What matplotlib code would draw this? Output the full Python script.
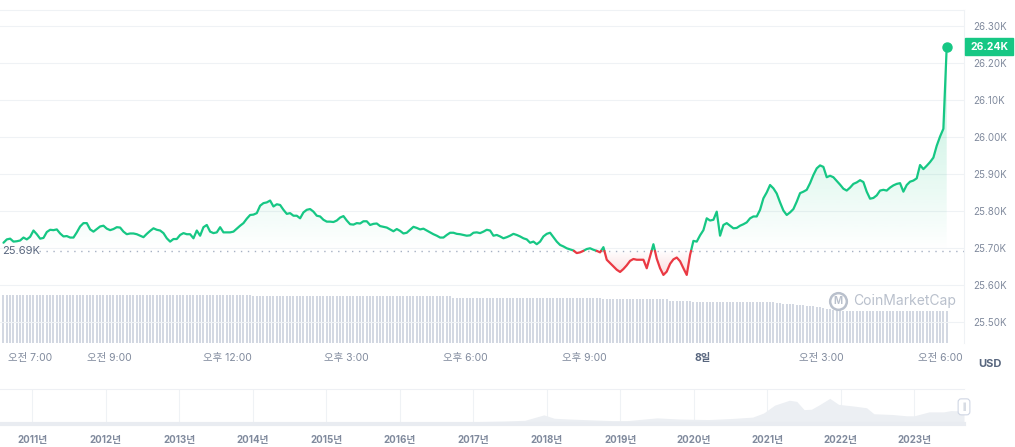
import numpy as np
import matplotlib
matplotlib.use("Agg")
import matplotlib.pyplot as plt
import matplotlib.transforms as mtransforms
from matplotlib.colors import to_rgb
from matplotlib.patches import Polygon, Rectangle

plt.rcParams["font.family"] = ["Inter", "Noto Sans CJK KR", "DejaVu Sans"]

GREEN = "#16c784"
RED = "#ea3943"
GRID = "#eff2f5"
TICK = "#808a9d"
DARK = "#58667e"

# BTC price (USD), ~5 min steps, 7일 06:20 -> 8일 06:10 (hours from 7일 00:00)
t_start, t_end = 6.33, 30.17
price = [
    25714, 25723, 25725, 25717, 25718, 25720, 25728, 25723, 25730, 25747, 25737, 25725,
    25727, 25743, 25749, 25748, 25750, 25739, 25731, 25732, 25728, 25728, 25742, 25758,
    25767, 25767, 25750, 25744, 25751, 25758, 25760, 25752, 25748, 25751, 25756, 25755,
    25744, 25737, 25739, 25739, 25737, 25733, 25729, 25738, 25746, 25753, 25749,
    25747, 25740, 25726, 25717, 25724, 25724, 25735, 25740, 25737, 25737, 25726, 25747,
    25733, 25756, 25762, 25744, 25740, 25742, 25756, 25742, 25742, 25742, 25744, 25752,
    25760, 25767, 25779, 25789, 25790, 25794, 25814, 25821, 25823, 25828, 25812, 25818,
    25816, 25803, 25792, 25794, 25787, 25787, 25780, 25796, 25803, 25805, 25798, 25787,
    25785, 25776, 25771, 25771, 25770, 25774, 25782, 25786, 25774, 25764, 25763, 25767,
    25766, 25772, 25772, 25762, 25765, 25766, 25759, 25757, 25755, 25750, 25745, 25751,
    25746, 25739, 25741, 25749, 25757, 25754, 25750, 25752, 25747, 25742, 25737, 25733,
    25728, 25728, 25735, 25741, 25741, 25738, 25737, 25735, 25733, 25734, 25741, 25742,
    25740, 25744, 25749, 25747, 25733, 25735, 25731, 25726, 25729, 25733, 25738, 25735,
    25731, 25726, 25723, 25714, 25717, 25710, 25717, 25731, 25738, 25741, 25729, 25717,
    25708, 25704, 25699, 25696, 25693, 25686, 25688, 25692, 25697, 25699, 25695, 25692,
    25688, 25702, 25668, 25659, 25650, 25641, 25635, 25643, 25653, 25665, 25670, 25668,
    25668, 25668, 25645, 25677, 25710, 25671, 25645, 25627, 25636, 25657, 25669, 25674,
    25664, 25645, 25627, 25681, 25719, 25717, 25734, 25748, 25780, 25774, 25776, 25798,
    25733, 25762, 25767, 25760, 25753, 25754, 25760, 25764, 25769, 25780, 25785, 25785,
    25803, 25834, 25850, 25870, 25861, 25847, 25823, 25801, 25789, 25796, 25805, 25825,
    25848, 25852, 25857, 25875, 25897, 25915, 25923, 25919, 25891, 25895, 25891, 25881,
    25871, 25860, 25855, 25863, 25873, 25877, 25883, 25878, 25852, 25833, 25835, 25842,
    25855, 25857, 25855, 25863, 25869, 25873, 25875, 25852, 25870, 25879, 25882, 25888,
    25924, 25913, 25922, 25932, 25944, 25976, 26001, 26022, 26244,
]
# 24h volume (B USD), one bar per price point
volume = [
    15.0, 15.0, 15.0, 15.0, 15.0, 15.0, 15.0, 15.0, 15.0, 15.0, 15.0, 15.0, 15.0, 15.0, 15.0,
    15.0, 15.0, 15.0, 15.0, 15.0, 15.0, 15.0, 15.0, 15.0, 15.0, 15.0, 15.0, 15.0, 15.0, 15.0,
    15.0, 15.0, 15.0, 15.0, 15.0, 15.0, 15.0, 15.0, 15.0, 15.0, 15.0, 15.0, 15.0, 15.0, 15.0,
    15.0, 15.0, 15.0, 15.0, 15.0, 15.0, 15.0, 15.0, 15.0, 15.0, 15.0, 15.0, 15.0, 15.0, 15.0,
    15.0, 15.0, 15.0, 15.0, 15.0, 15.0, 15.0, 15.0, 15.0, 15.0, 15.0, 15.0, 15.0, 15.0, 15.0,
    14.7, 14.7, 14.7, 14.7, 14.7, 14.7, 14.7, 14.7, 14.7, 14.7, 14.7, 14.7, 14.7, 14.7, 14.7,
    14.7, 14.7, 14.7, 14.7, 14.7, 14.7, 14.7, 14.7, 14.7, 14.7, 14.7, 14.7, 14.7, 14.7, 14.7,
    14.7, 14.7, 14.7, 14.7, 14.7, 14.7, 14.7, 14.7, 14.7, 14.7, 14.7, 14.7, 14.7, 14.7, 14.7,
    14.7, 14.7, 14.7, 14.7, 14.7, 14.7, 14.7, 14.7, 14.7, 14.7, 14.7, 14.7, 14.7, 14.7, 14.7,
    14.2, 14.2, 14.2, 14.2, 14.2, 14.2, 14.2, 14.2, 14.2, 14.2, 14.2, 14.2, 14.2, 14.2, 14.2,
    14.2, 14.2, 14.2, 14.2, 14.2, 14.2, 14.2, 14.2, 14.2, 14.2, 14.2, 14.2, 14.2, 14.2, 14.2,
    14.2, 14.2, 14.2, 14.2, 14.2, 14.2, 14.2, 14.2, 14.2, 14.2, 14.2, 14.2, 14.2, 14.2, 14.2,
    13.7, 13.7, 13.7, 13.7, 13.7, 13.7, 13.7, 13.7, 13.7, 13.7, 13.7, 13.7, 13.7, 13.7,
    13.8, 13.8, 13.8, 13.7, 13.7, 13.7, 13.2, 13.2, 13.2, 13.2, 13.2, 13.2, 13.2,
    12.8, 12.8, 12.8, 12.8, 12.8, 12.8, 12.8, 12.8, 12.8, 12.8, 12.8, 12.8, 12.8,
    12.8, 12.8, 12.8, 12.8, 12.8, 12.8, 12.8, 12.8, 12.8, 12.8, 12.8, 12.8,
    12.5, 12.4, 12.3, 12.3, 12.2, 12.1, 12.0, 11.9, 11.8, 11.7, 11.5, 11.4, 11.3, 11.1,
    10.9, 10.7, 10.5, 10.3, 10.2, 10.1,
    10.0, 10.0, 10.0, 10.0, 10.0, 10.0, 10.0, 10.0, 10.0, 10.0, 10.0, 10.0, 10.0, 10.0, 10.0, 10.0,
    10.0, 10.0, 10.0, 10.0, 10.0, 10.0, 10.0, 10.0, 10.0, 10.0, 10.0, 10.0, 10.0, 10.0, 10.0, 10.0,
]
assert len(volume) == len(price), (len(volume), len(price))
base_price = 25692  # open price -> dotted line

price_ticks = [25500, 25600, 25700, 25800, 25900, 26000, 26100, 26200, 26300]
time_ticks = [7, 9, 12, 15, 18, 21, 24, 27, 30]
time_labels = ["오전 7:00", "오전 9:00", "오후 12:00", "오후 3:00", "오후 6:00",
               "오후 9:00", "8일", "오전 3:00", "오전 6:00"]

# all-time history for the navigator (year, price in K USD)
nav_year = [2010.56, 2012.0, 2013.9, 2014.5, 2015.0, 2016.0, 2017.0, 2017.4, 2017.7,
            2017.96, 2018.1, 2018.3, 2018.5, 2018.9, 2019.1, 2019.5, 2019.8, 2020.0,
            2020.2, 2020.5, 2020.8, 2020.95, 2021.1, 2021.3, 2021.4, 2021.5, 2021.6,
            2021.7, 2021.85, 2021.97, 2022.2, 2022.35, 2022.45, 2022.7, 2022.9, 2023.0,
            2023.2, 2023.4, 2023.5, 2023.676]
nav_price = [0.0, 0.0, 1.0, 0.6, 0.3, 0.4, 1.0, 2.5, 4.5,
             19.0, 10.0, 8.0, 6.5, 3.7, 3.8, 11.0, 8.0, 7.2,
             6.5, 9.2, 13.0, 24.0, 45.0, 58.0, 55.0, 33.0, 34.0,
             45.0, 63.0, 47.0, 42.0, 38.0, 22.0, 20.0, 16.5, 16.6,
             27.0, 27.0, 30.5, 29.2]
year_ticks = list(range(2011, 2024))


def split_at_base(t, p, base):
    tt, pp = [t[0]], [p[0]]
    for i in range(1, len(t)):
        a, b = p[i - 1] - base, p[i] - base
        if a * b < 0:
            f = a / (a - b)
            tt.append(t[i - 1] + f * (t[i] - t[i - 1]))
            pp.append(base)
        tt.append(t[i])
        pp.append(p[i])
    return np.array(tt), np.array(pp)


def gradient_fill(ax, tt, pp, base, color, alpha_max, above=True):
    if above:
        edge = np.maximum(pp, base)
        lo, hi = base, edge.max()
        alphas = np.linspace(alpha_max, 0, 256)
    else:
        edge = np.minimum(pp, base)
        lo, hi = edge.min(), base
        alphas = np.linspace(0, alpha_max, 256)
    rgba = np.zeros((256, 1, 4))
    rgba[..., :3] = to_rgb(color)
    rgba[:, 0, 3] = alphas
    im = ax.imshow(rgba, extent=[tt[0], tt[-1], lo, hi], aspect="auto",
                   origin="upper", zorder=1, interpolation="bilinear")
    verts = np.column_stack([np.r_[tt[0], tt, tt[-1]], np.r_[base, edge, base]])
    poly = Polygon(verts, closed=True, transform=ax.transData, fc="none", ec="none")
    ax.add_patch(poly)
    im.set_clip_path(poly)


W, H = 1015, 447


def px_box(x0, y0, x1, y1):
    return [x0 / W, 1 - y1 / H, (x1 - x0) / W, (y1 - y0) / H]


fig = plt.figure(figsize=(W / 100, H / 100), dpi=100)
t = np.linspace(t_start, t_end, len(price))
step = t[1] - t[0]
xlim = (6.242, 30.607)

# volume bars (behind)
axv = fig.add_axes(px_box(0, 10, 964, 343))
axv.bar(t, volume, width=step * 0.6, color="#d3d8e2", lw=0)
axv.set_xlim(*xlim)
axv.set_ylim(0, 104)
axv.axis("off")

# price
ax = fig.add_axes(px_box(0, 10, 964, 343))
ax.set_facecolor("none")
tt, pp = split_at_base(t, np.array(price, float), base_price)
gradient_fill(ax, tt, pp, base_price, GREEN, 0.30, above=True)
gradient_fill(ax, tt, pp, base_price, RED, 0.18, above=False)
ax.plot(tt, np.where(pp >= base_price, pp, np.nan), color=GREEN, lw=1.6,
        solid_joinstyle="round", solid_capstyle="round", zorder=3)
ax.plot(tt, np.where(pp <= base_price, pp, np.nan), color=RED, lw=1.6,
        solid_joinstyle="round", solid_capstyle="round", zorder=3)
ax.plot(t[-1], price[-1], "o", color=GREEN, ms=6.5, zorder=4, clip_on=False)
ax.axhline(base_price, xmin=0.04, color="#a6b0c3", lw=1, ls=(0, (1, 4)), zorder=2)

ax.set_xlim(*xlim)
ax.set_ylim(25443, 26343)
ax.yaxis.tick_right()
ax.set_yticks(price_ticks, [f"{v / 1000:.2f}K" for v in price_ticks])
ax.grid(axis="y", color=GRID, lw=0.8, zorder=0)
ax.set_axisbelow(True)
ax.tick_params(axis="y", length=0, pad=7, labelsize=7, labelcolor=TICK)
ax.set_xticks(time_ticks, time_labels)
ax.tick_params(axis="x", length=0, pad=7, labelsize=7.5, labelcolor=TICK)
for lab in ax.get_xticklabels():
    if lab.get_text() == "8일":
        lab.set_fontweight("bold")
        lab.set_color(DARK)
for s in ["left", "bottom"]:
    ax.spines[s].set_visible(False)
for s in ["top", "right"]:
    ax.spines[s].set_color(GRID)

trans = mtransforms.blended_transform_factory(ax.transAxes, ax.transData)
last = price[-1]
ax.add_patch(Rectangle((1.001, last - 23), 0.05, 46, transform=trans,
                       color=GREEN, clip_on=False, zorder=5))
ax.text(1.026, last, f"{last / 1000:.2f}K", transform=trans, ha="center", va="center",
        color="white", fontsize=7.5, fontweight="bold", zorder=6)
ax.text(0.002, base_price, f"{base_price / 1000:.2f}K", transform=trans,
        ha="left", va="center", fontsize=8, color=DARK, zorder=6)

# watermark
ax.plot(0.869, 0.126, "o", ms=12, mfc="none", mec="#b9c0cc", mew=1.8,
        transform=ax.transAxes, zorder=2)
ax.text(0.869, 0.126, "M", transform=ax.transAxes, ha="center", va="center",
        fontsize=7, fontweight="bold", color="#b9c0cc", zorder=2)
ax.text(0.885, 0.126, "CoinMarketCap", transform=ax.transAxes, ha="left", va="center",
        fontsize=10, color="#b9c0cc", zorder=2)

fig.text(990 / W, 1 - 364 / H, "USD", ha="center", va="center", fontsize=8,
         fontweight="bold", color=DARK)

# navigator
axn = fig.add_axes(px_box(0, 389, 964, 424))
axn.fill_between(nav_year, nav_price, -6, color="#eceff3", lw=0)
axn.set_xlim(2010.56, 2023.676)
axn.set_ylim(-5.33, 88)
axn.set_xticks(year_ticks, [f"{y}년" for y in year_ticks])
axn.set_yticks([])
axn.grid(axis="x", color=GRID, lw=0.8)
axn.set_axisbelow(True)
axn.tick_params(axis="x", length=0, pad=8, labelsize=7, labelcolor=TICK)
for lab in axn.get_xticklabels():
    lab.set_fontweight("bold")
for s in ["left", "right"]:
    axn.spines[s].set_visible(False)
axn.spines["top"].set_color("#eef0f4")
axn.spines["bottom"].set_color("#e9ecf1")
axn.spines["bottom"].set_linewidth(3)
axn.text(1.0, 0.49, "||", transform=axn.transAxes, ha="center", va="center",
         fontsize=4.5, color="#a6b0c3", clip_on=False,
         bbox=dict(boxstyle="round,pad=0.6,rounding_size=0.5", fc="white",
                   ec="#cfd6e4", lw=0.8))

fig.savefig("out.png", dpi=100)
